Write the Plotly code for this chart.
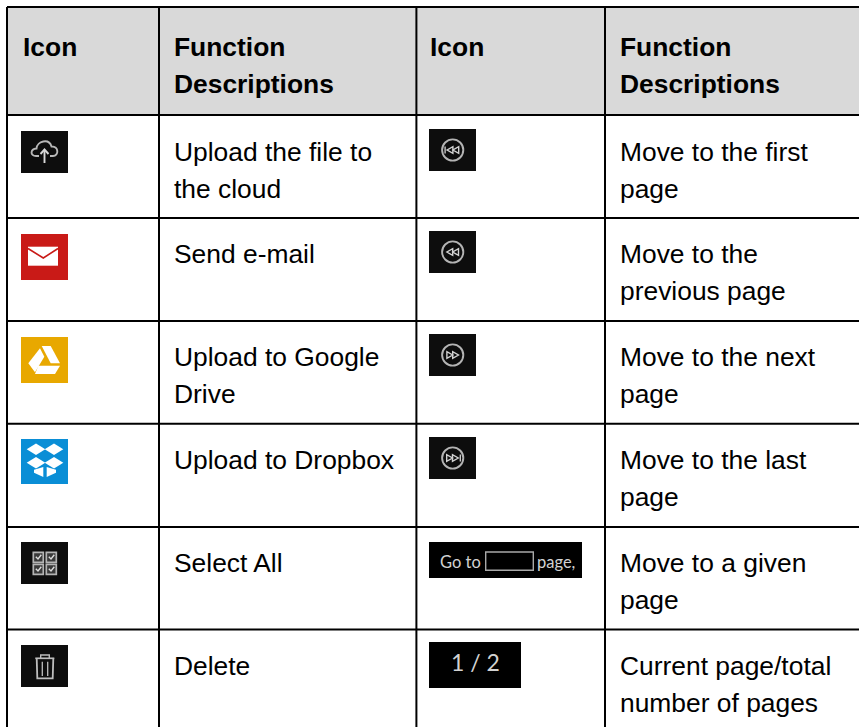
import plotly.graph_objects as go

W, H = 859, 727
# ---- table content ----
header = ["Icon", "Function\nDescriptions", "Icon", "Function\nDescriptions"]
left_desc = ["Upload the file to\nthe cloud", "Send e-mail", "Upload to Google\nDrive",
             "Upload to Dropbox", "Select All", "Delete"]
right_desc = ["Move to the first\npage", "Move to the\nprevious page", "Move to the next\npage",
              "Move to the last\npage", "Move to a given\npage", "Current page/total\nnumber of pages"]
left_icons = ["cloud", "mail", "drive", "dropbox", "selectall", "trash"]
right_icons = ["first", "prev", "next", "last", "goto", "count"]

# ---- layout constants ----
col_edges = [7, 159, 416.4, 605, W + 20]
row_edges = [7, 115, 218, 321, 423.7, 527, 629.5, H + 20]
left_tops = [131, 234, 337, 439, 542, 645]
right_tops = [129, 231, 334, 437, 542, 642]
ICON_L, ICON_R = 21, 429
FONT = "Liberation Sans, Arial, sans-serif"
FS = 26.4
LH = 37
PAD_X = [16, 15, 14, 15]

shapes, notes = [], []


def P(pts, ox, oy, close=True):
    s = "M" + " L".join(f"{x + ox:.2f},{y + oy:.2f}" for x, y in pts)
    return s + (" Z" if close else "")


def path(d, fill=None, line=None, w=1.3):
    s = dict(type="path", path=d, xref="x", yref="y", layer="above",
             line=dict(width=w if line else 0, color=line or "rgba(0,0,0,0)"))
    if fill:
        s["fillcolor"] = fill
    shapes.append(s)


def rect(x0, y0, x1, y1, fill=None, line=None, w=1.3):
    s = dict(type="rect", x0=x0, x1=x1, y0=y0, y1=y1, xref="x", yref="y", layer="above",
             line=dict(width=w if line else 0, color=line or "rgba(0,0,0,0)"))
    if fill:
        s["fillcolor"] = fill
    shapes.append(s)


def circle(cx, cy, r, line, w=1.3):
    shapes.append(dict(type="circle", x0=cx - r, x1=cx + r, y0=cy - r, y1=cy + r, xref="x", yref="y",
                       layer="above", line=dict(width=w, color=line)))


def label(x, y, text, size, color, font=FONT, bold=False, anchor="left"):
    notes.append(dict(x=x, y=y, xref="x", yref="y", text=f"<b>{text}</b>" if bold else text,
                      showarrow=False, xanchor=anchor, yanchor="middle", borderpad=0, borderwidth=0,
                      font=dict(family=font, size=size, color=color)))


DARK, GRAY, WHITE = "#0d0d0d", "#c4c4c4", "#ffffff"


def draw_icon(name, ox, oy):
    if name == "cloud":
        rect(ox, oy, ox + 47, oy + 42, DARK)
        d = (f"M{ox+18},{oy+25} H{ox+15} C{ox+9},{oy+25} {ox+9},{oy+18} {ox+15.5},{oy+17.5} "
             f"C{ox+16},{oy+10} {ox+28},{oy+7} {ox+30.5},{oy+15.5} C{ox+38},{oy+15} {ox+38},{oy+25} {ox+32},{oy+25} H{ox+29}")
        path(d, line="#b8b8b8", w=1.9)
        path(P([(23.5, 32), (23.5, 19)], ox, oy, False), line="#d8d8d8", w=1.9)
        path(P([(19.5, 23), (23.5, 18.5), (27.5, 23)], ox, oy, False), line="#d8d8d8", w=1.9)
    elif name == "mail":
        rect(ox, oy, ox + 47, oy + 46, "#c91a17")
        path(P([(7, 12.7), (37, 12.7), (37, 31.7), (7, 31.7)], ox, oy), WHITE)
        path(P([(7, 14.5), (22.3, 24), (37, 14.5)], ox, oy, False), line="#c91a17", w=1.6)
    elif name == "drive":
        rect(ox, oy, ox + 47, oy + 46, "#e8a800")
        path(P([(20.7, 9), (29.7, 9), (39, 26.3), (29.7, 26.3)], ox, oy), WHITE)
        path(P([(19, 11.3), (23.3, 19.7), (14, 35.3), (7.3, 26.3)], ox, oy), WHITE)
        path(P([(17.3, 28.7), (39, 28.7), (34, 37), (14, 37)], ox, oy), WHITE)
    elif name == "dropbox":
        rect(ox, oy, ox + 47, oy + 45, "#0a8ed6")
        for cx, cy in [(15, 10.3), (33, 10.3), (15, 23.7), (33, 23.7)]:
            path(P([(cx - 9.3, cy), (cx, cy - 5.8), (cx + 9.3, cy), (cx, cy + 5.8)], ox, oy), WHITE)
        path(P([(22.3, 28), (22.3, 38), (13, 33.7), (13, 30.7)], ox, oy), WHITE)
        path(P([(25.7, 28), (25.7, 38), (35, 33.7), (35, 30.7)], ox, oy), WHITE)
    elif name == "selectall":
        rect(ox, oy, ox + 47, oy + 42, DARK)
        for bx in (12.3, 25.3):
            for by in (10.3, 22.3):
                rect(ox + bx, oy + by, ox + bx + 10, oy + by + 10, fill="#3a3a3a", line="#b4b4b4", w=1.7)
                path(P([(bx + 2.5, by + 4.5), (bx + 4.7, by + 6.7), (bx + 8, by + 2.5)], ox, oy, False), line="#dcdcdc", w=1.4)
    elif name == "trash":
        rect(ox, oy, ox + 47, oy + 42, DARK)
        path(P([(15.7, 13.3), (16.3, 33.3), (31.7, 33.3), (32.3, 13.3)], ox, oy, False), line="#bdbdbd", w=1.8)
        path(P([(14.3, 13.3), (33.3, 13.3)], ox, oy, False), line="#bdbdbd", w=1.7)
        path(P([(19.7, 13), (19.7, 10), (28.3, 10), (28.3, 13)], ox, oy, False), line="#bdbdbd", w=1.4)
        path(P([(21.3, 16.7), (21.3, 31)], ox, oy, False), line="#bdbdbd", w=1.3)
        path(P([(26.7, 16.7), (26.7, 31)], ox, oy, False), line="#bdbdbd", w=1.3)
    elif name in ("first", "prev", "next", "last"):
        rect(ox, oy, ox + 47, oy + 42, DARK)
        cx, cy = 23.7, 21
        circle(ox + cx, oy + cy, 10.6, "#b4b4b4", 1.9)
        sign = -1 if name in ("first", "prev") else 1
        starts = (-6, -0.2) if name in ("first", "last") else (-5.8, 0)
        for st in starts:
            # triangle with its point towards the travel direction
            tip = st + 5.8
            if sign == -1:
                pts = [(cx - st, cy - 3.4), (cx - st, cy + 3.4), (cx - tip, cy)]
            else:
                pts = [(cx + st, cy - 3.4), (cx + st, cy + 3.4), (cx + tip, cy)]
            path(P(pts, ox, oy), line="#d2d2d2", w=1.4)
        if name == "first":
            path(P([(cx - 7.6, cy - 3.6), (cx - 7.6, cy + 3.6)], ox, oy, False), line="#d2d2d2", w=1.3)
        if name == "last":
            path(P([(cx + 7.6, cy - 3.6), (cx + 7.6, cy + 3.6)], ox, oy, False), line="#d2d2d2", w=1.3)
    elif name == "goto":
        rect(ox, oy, ox + 153, oy + 36, "#000000")
        label(ox + 11, oy + 20, "Go to", 16.5, "#d2d2d2", font="Lato")
        rect(ox + 56.7, oy + 10, ox + 104.3, oy + 28.3, line="#a9a9a9", w=1.4)
        label(ox + 107.5, oy + 20, "page,", 16.5, "#d2d2d2", font="Lato")
    elif name == "count":
        rect(ox, oy, ox + 92, oy + 46, "#000000")
        label(ox + 46, oy + 20, "1 / 2", 23, "#d2d2d2", font="Lato", anchor="center")


# header band and grid
rect(col_edges[0], row_edges[0], col_edges[-1], row_edges[1], "#d9d9d9")
for x in col_edges[:-1]:
    shapes.append(dict(type="line", x0=x, x1=x, y0=row_edges[0], y1=row_edges[-1], xref="x", yref="y",
                       layer="above", line=dict(color="#000000", width=2)))
for y in row_edges[:-1]:
    shapes.append(dict(type="line", x0=col_edges[0], x1=col_edges[-1], y0=y, y1=y, xref="x", yref="y",
                       layer="above", line=dict(color="#000000", width=2)))

# header text
for c, t in enumerate(header):
    for i, ln in enumerate(t.split("\n")):
        label(col_edges[c] + PAD_X[c], row_edges[0] + 40 + i * LH, ln, FS, "#000000", bold=True)

# body text and icons
for r in range(len(left_desc)):
    top = row_edges[r + 1]
    offset = 37 if r == 0 else 36
    for c, t in ((1, left_desc[r]), (3, right_desc[r])):
        for i, ln in enumerate(t.split("\n")):
            label(col_edges[c] + PAD_X[c], top + offset + i * LH, ln, FS, "#000000")
    draw_icon(left_icons[r], ICON_L, left_tops[r])
    draw_icon(right_icons[r], ICON_R, right_tops[r])

fig = go.Figure()
fig.update_layout(
    width=W, height=H, margin=dict(l=0, r=0, t=0, b=0), autosize=False,
    paper_bgcolor="#ffffff", plot_bgcolor="#ffffff", showlegend=False,
    xaxis=dict(range=[0, W], visible=False, fixedrange=True),
    yaxis=dict(range=[H, 0], visible=False, fixedrange=True),
    shapes=shapes, annotations=notes,
)
fig.write_html("out.html", config={"displayModeBar": False},
               post_script="document.body.style.margin='0';")
